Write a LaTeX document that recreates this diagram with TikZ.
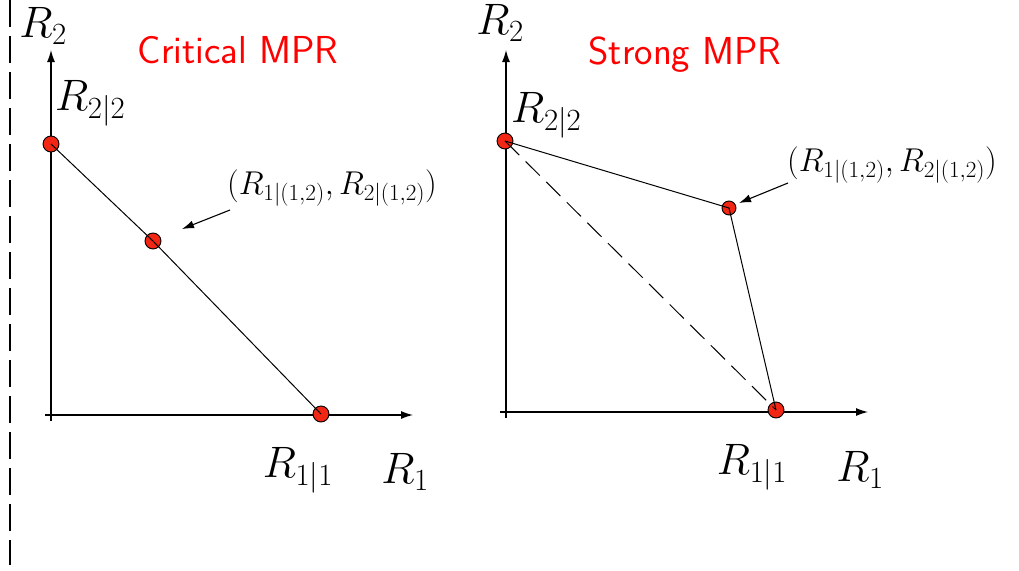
\RequirePackage{fix-cm}
\documentclass[tikz,border=0pt]{standalone}
\usepackage{amsmath,amssymb}
\usetikzlibrary{arrows.meta,positioning,calc}
\definecolor{dotred}{RGB}{242,38,20}

\begin{document}
\begin{tikzpicture}[
            x=1pt, y=-1pt,
            axis/.style={-{Latex[length=12pt,width=8pt]}, line width=1.2pt},
            pointer/.style={-{Latex[length=12pt,width=8pt]}, line width=1.1pt},
            edge/.style={line width=1pt},
            ratept/.style={circle, draw, line width=0.9pt, fill=dotred, inner sep=0pt, minimum size=16pt},
            lbl/.style={font=\fontsize{44}{52}\selectfont, inner sep=0pt},
            pairlbl/.style={font=\fontsize{33}{40}\selectfont, inner sep=0pt},
            title/.style={font=\fontsize{39}{47}\selectfont\sffamily, text=red, inner sep=0pt}
        ]
            \useasboundingbox (0,0) rectangle (1019,570);
            \draw[line width=1.3pt, dash pattern=on 27pt off 9pt] (10,0) -- (10,565);

            % critical MPR
            \coordinate (lx0) at (45,415);
            \coordinate (lx1) at (413,415);
            \coordinate (ly0) at (51,421);
            \coordinate (ly1) at (51,50);
            \draw[axis] (lx0) -- (lx1);
            \draw[axis] (ly0) -- (ly1);
            \node[lbl] (ly-lbl) at (43,26) {$R_2$};
            \node[lbl] (lx-lbl) at (405,472) {$R_1$};
            \node[title] (ltitle) at (238,50) {Critical MPR};

            \node[ratept] (la) at (51,144) {};
            \node[ratept] (lm) at (153,241) {};
            \node[ratept] (lb) at (321,414) {};
            \draw[edge] (la.center) -- (lm.center) -- (lb.center);

            \node[lbl, anchor=west] (la-lbl) at (55,103) {$R_{2|2}$};
            \node[lbl] (lb-lbl) at (298,470) {$R_{1|1}$};
            \node[pairlbl] (lm-lbl) at (332,188) {$(R_{1|(1,2)},R_{2|(1,2)})$};
            \coordinate (lm-from) at (230,210);
            \coordinate (lm-to) at (182,229);
            \draw[pointer] (lm-from) -- (lm-to);

            % strong MPR
            \coordinate (rx0) at (500,412);
            \coordinate (rx1) at (868,412);
            \coordinate (ry0) at (506,418);
            \coordinate (ry1) at (506,50);
            \draw[axis] (rx0) -- (rx1);
            \draw[axis] (ry0) -- (ry1);
            \node[lbl] (ry-lbl) at (500,23) {$R_2$};
            \node[lbl] (rx-lbl) at (860,470) {$R_1$};
            \node[title] (rtitle) at (685,55) {Strong MPR};

            \node[ratept] (ra) at (505,141) {};
            \node[ratept, minimum size=14pt] (rm) at (729,208) {};
            \node[ratept] (rb) at (776,410) {};
            \draw[edge] (ra.center) -- (rm.center) -- (rb.center);
            \draw[edge, dash pattern=on 20pt off 9pt] (ra.center) -- (rb.center);

            \node[lbl, anchor=west] (ra-lbl) at (511,115) {$R_{2|2}$};
            \node[lbl] (rb-lbl) at (752,467) {$R_{1|1}$};
            \node[pairlbl] (rm-lbl) at (892,165) {$(R_{1|(1,2)},R_{2|(1,2)})$};
            \coordinate (rm-from) at (788,183);
            \coordinate (rm-to) at (739,203);
            \draw[pointer] (rm-from) -- (rm-to);
        \end{tikzpicture}
\end{document}
